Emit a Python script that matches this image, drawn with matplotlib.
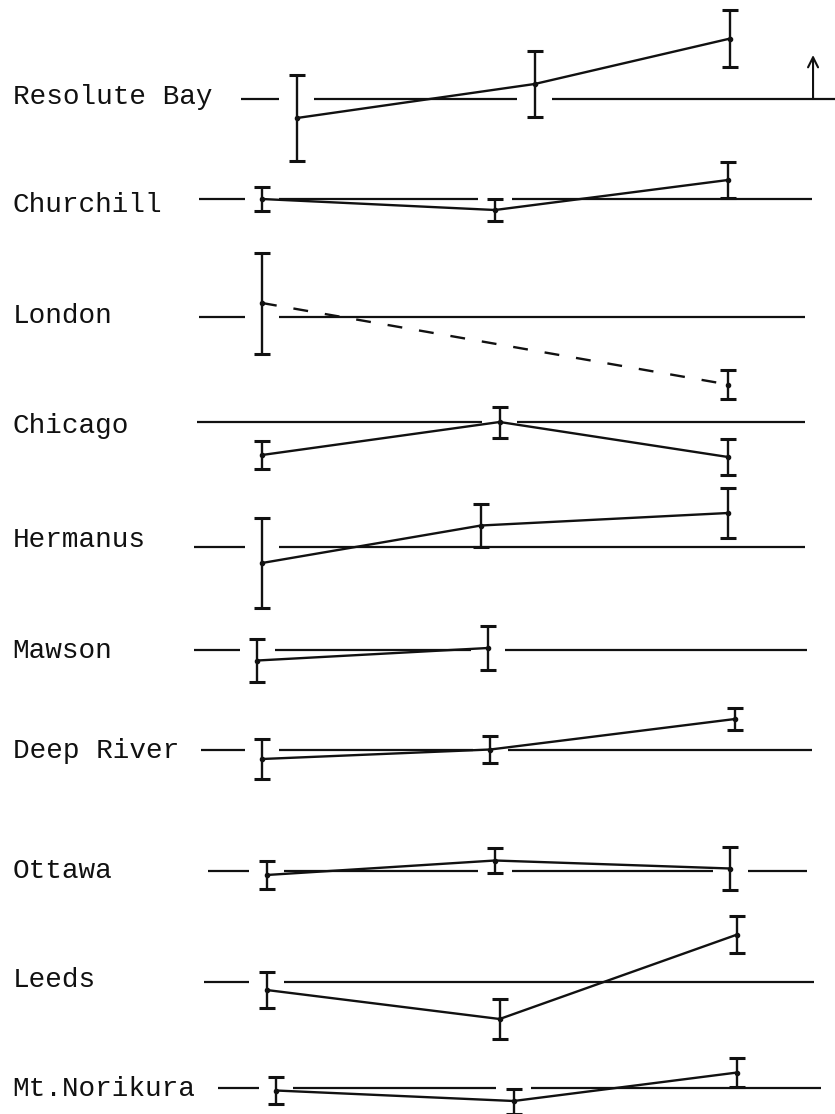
import matplotlib
matplotlib.use("Agg")
import matplotlib.pyplot as plt

# ---- data: change (%) at each epoch with its standard error ----
stations = ["Resolute Bay", "Churchill", "London", "Chicago", "Hermanus",
            "Mawson", "Deep River", "Ottawa", "Leeds", "Mt.Norikura"]

resolute_epoch = [0.15, 1.17, 2.01]
resolute_change = [-1.9, 1.5, 6.05]
resolute_err = [4.3, 3.3, 2.85]

churchill_epoch = [0.0, 1.0, 2.0]
churchill_change = [0.0, -1.1, 1.9]
churchill_err = [1.2, 1.1, 1.8]

london_epoch = [0.0, 2.0]
london_change = [1.4, -6.75]
london_err = [5.05, 1.45]

chicago_epoch = [0.0, 1.02, 2.0]
chicago_change = [-3.3, 0.0, -3.5]
chicago_err = [1.4, 1.55, 1.8]

hermanus_epoch = [0.0, 0.94, 2.0]
hermanus_change = [-1.6, 2.15, 3.4]
hermanus_err = [4.5, 2.15, 2.5]

mawson_epoch = [-0.02, 0.97]
mawson_change = [-1.05, 0.2]
mawson_err = [2.15, 2.2]

deepriver_epoch = [0.0, 0.98, 2.03]
deepriver_change = [-0.9, 0.05, 3.1]
deepriver_err = [2.0, 1.35, 1.1]

ottawa_epoch = [0.02, 1.0, 2.01]
ottawa_change = [-0.4, 1.05, 0.25]
ottawa_err = [1.4, 1.25, 2.15]

leeds_epoch = [0.02, 1.02, 2.04]
leeds_change = [-0.8, -3.7, 4.75]
leeds_err = [1.8, 2.0, 1.85]

norikura_epoch = [0.06, 1.08, 2.04]
norikura_change = [-0.25, -1.3, 1.55]
norikura_err = [1.35, 1.25, 1.45]

scale_arrow = 4.4  # length of the reference arrow, in %

series = [
    (resolute_epoch, resolute_change, resolute_err),
    (churchill_epoch, churchill_change, churchill_err),
    (london_epoch, london_change, london_err),
    (chicago_epoch, chicago_change, chicago_err),
    (hermanus_epoch, hermanus_change, hermanus_err),
    (mawson_epoch, mawson_change, mawson_err),
    (deepriver_epoch, deepriver_change, deepriver_err),
    (ottawa_epoch, ottawa_change, ottawa_err),
    (leeds_epoch, leeds_change, leeds_err),
    (norikura_epoch, norikura_change, norikura_err),
]

# ---- layout ----
row_level = [9.9, 19.9, 31.7, 42.2, 54.7, 65.0, 75.0, 87.1, 98.2, 108.8]
base_start = [-0.09, -0.27, -0.27, -0.28, -0.29, -0.29, -0.26, -0.23, -0.25, -0.19]
base_end = [2.46, 2.36, 2.33, 2.33, 2.33, 2.34, 2.36, 2.34, 2.37, 2.40]
label_drop = [0.5, 1.3, 0.6, 1.1, 0.0, 0.8, 0.8, 0.7, 0.5, 0.8]
line_styles = ["-", "-", (0, (6.3, 7.2)), "-", "-", "-", "-", "-", "-", "-"]
label_x = -1.07
gap = 0.075
ink = "#111111"

fig = plt.figure(figsize=(8.35, 11.14), dpi=100)
ax = fig.add_axes([0, 0, 1, 1])
ax.set_xlim(-262 / 233, (835 - 262) / 233)
ax.set_ylim(111.4, 0)
ax.axis("off")

for i, name in enumerate(stations):
    ep, ch, er = series[i]
    row = row_level[i]

    # reference level, broken where an error bar clearly crosses it
    gaps = sorted((e - gap, e + gap) for e, v, s in zip(ep, ch, er)
                  if v - s < -0.1 and v + s > -0.1)
    x0 = base_start[i]
    segs = []
    for a, b in gaps:
        if a > x0:
            segs.append((x0, a))
        x0 = max(x0, b)
    segs.append((x0, base_end[i]))
    for a, b in segs:
        ax.plot([a, b], [row, row], color=ink, lw=1.6, solid_capstyle="butt")

    ys = [row - v for v in ch]
    ax.plot(ep, ys, color=ink, lw=1.7, linestyle=line_styles[i],
            dash_capstyle="butt")
    ax.errorbar(ep, ys, yerr=er, fmt="o", ms=3, color=ink, ecolor=ink,
                elinewidth=1.7, capsize=5.5, capthick=2.2)

    ax.text(label_x, row + label_drop[i], name, family="Liberation Mono",
            fontsize=20, color=ink, ha="left", va="baseline")

# scale arrow at the right of the first row
arrow_x = 2.365
ax.annotate("", xy=(arrow_x, row_level[0] - scale_arrow),
            xytext=(arrow_x, row_level[0]),
            arrowprops=dict(arrowstyle="->", color=ink, lw=1.5,
                            mutation_scale=18, shrinkA=0, shrinkB=0))

fig.savefig("out.png", dpi=100, facecolor="white")
